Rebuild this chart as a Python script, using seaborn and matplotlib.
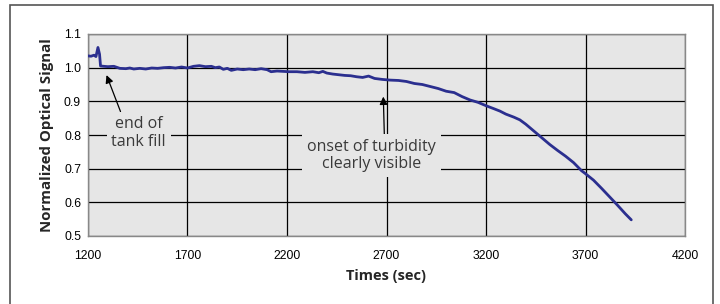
import numpy as np
import pandas as pd
import matplotlib.pyplot as plt
import seaborn as sns
from matplotlib.patches import Rectangle

# data
times = [1200, 1215, 1230, 1240, 1250, 1258, 1263, 1280, 1300, 1330, 1360, 1390,
         1410, 1430, 1460, 1490, 1520, 1550, 1580, 1610, 1640, 1670, 1700, 1730,
         1760, 1790, 1820, 1840, 1860, 1880, 1900, 1920, 1950, 1980, 2010, 2040,
         2070, 2100, 2120, 2150, 2180, 2210, 2250, 2290, 2330, 2360, 2380, 2400,
         2430, 2460, 2490, 2520, 2550, 2580, 2610, 2640, 2680, 2720, 2760, 2800,
         2840, 2880, 2920, 2960, 3000, 3040, 3080, 3120, 3160, 3200, 3240, 3270,
         3300, 3340, 3370, 3400, 3440, 3480, 3520, 3560, 3600, 3640, 3680, 3700,
         3740, 3780, 3820, 3860, 3900, 3930]
signal = [1.035, 1.034, 1.037, 1.033, 1.060, 1.040, 1.005, 1.004, 1.003, 1.004, 0.998, 0.997,
          0.999, 0.996, 0.998, 0.996, 0.999, 0.998, 1.000, 1.001, 0.999, 1.002, 0.999, 1.004,
          1.006, 1.003, 1.004, 1.000, 1.002, 0.995, 0.998, 0.992, 0.996, 0.994, 0.996, 0.994,
          0.997, 0.994, 0.988, 0.990, 0.989, 0.988, 0.988, 0.986, 0.988, 0.985, 0.989, 0.984,
          0.981, 0.979, 0.977, 0.976, 0.973, 0.971, 0.975, 0.968, 0.965, 0.963, 0.962, 0.959,
          0.953, 0.950, 0.944, 0.938, 0.930, 0.926, 0.914, 0.904, 0.897, 0.887, 0.878, 0.871,
          0.862, 0.853, 0.845, 0.832, 0.812, 0.792, 0.772, 0.754, 0.737, 0.718, 0.694, 0.685,
          0.666, 0.642, 0.617, 0.592, 0.566, 0.548]
x_ticks = [1200, 1700, 2200, 2700, 3200, 3700, 4200]
y_ticks = [0.5, 0.6, 0.7, 0.8, 0.9, 1.0, 1.1]

df = pd.DataFrame({"time": times, "signal": signal})

sns.set_style("white")
plt.rcParams["font.family"] = ["Liberation Sans", "DejaVu Sans"]
label_font = ["Open Sans", "DejaVu Sans"]

bg = "#e6e6e6"
fig = plt.figure(figsize=(7.2, 3.04), dpi=100)
fig.patches.append(Rectangle((10 / 720, -0.1), 703 / 720, 1.1 - 5 / 304, transform=fig.transFigure,
                             fill=False, edgecolor="#555555", linewidth=1.2))
ax = fig.add_axes([88 / 720, 1 - 236 / 304, 597 / 720, 202 / 304])
ax.set_facecolor(bg)

sns.lineplot(data=df, x="time", y="signal", color="#2b2f8f", linewidth=2.0, ax=ax, zorder=3)

ax.set_xlim(1200, 4200)
ax.set_ylim(0.5, 1.1)
ax.set_xticks(x_ticks)
ax.set_yticks(y_ticks)
ax.set_yticklabels([f"{v:.1f}" for v in y_ticks])
ax.grid(True, color="black", linewidth=0.9)
ax.set_axisbelow(True)
for s in ax.spines.values():
    s.set_color("#888888")
    s.set_linewidth(1.0)
ax.tick_params(axis="both", labelsize=8.8, colors="#888888", labelcolor="black",
               length=3, width=1.0, direction="out")
ax.tick_params(axis="y", pad=2)
ax.tick_params(axis="x", pad=7)

ax.set_xlabel("Times (sec)", fontsize=10.5, fontweight="bold", family=label_font, labelpad=5)
ax.set_ylabel("Normalized Optical Signal", fontsize=10.8, fontweight="bold",
              family=label_font, labelpad=7)

box = dict(boxstyle="square,pad=0.3", facecolor=bg, edgecolor="none")
ax.annotate("end of\ntank fill", xy=(1293, 0.978), xytext=(1455, 0.806),
            ha="center", va="center", fontsize=11.5, color="#3a3a3a", linespacing=1.1,
            family=label_font, bbox=box, zorder=2,
            arrowprops=dict(arrowstyle="-|>", color="black", lw=0.9,
                            shrinkA=0, shrinkB=0, relpos=(0.2, 1.0)))
ax.annotate("onset of turbidity\nclearly visible", xy=(2684, 0.914), xytext=(2625, 0.738),
            ha="center", va="center", fontsize=11.5, color="#3a3a3a", linespacing=1.1,
            family=label_font, bbox=box, zorder=2,
            arrowprops=dict(arrowstyle="-|>", color="black", lw=0.9,
                            shrinkA=0, shrinkB=0, relpos=(0.6, 1.0)))

fig.savefig("out.png", dpi=100)
